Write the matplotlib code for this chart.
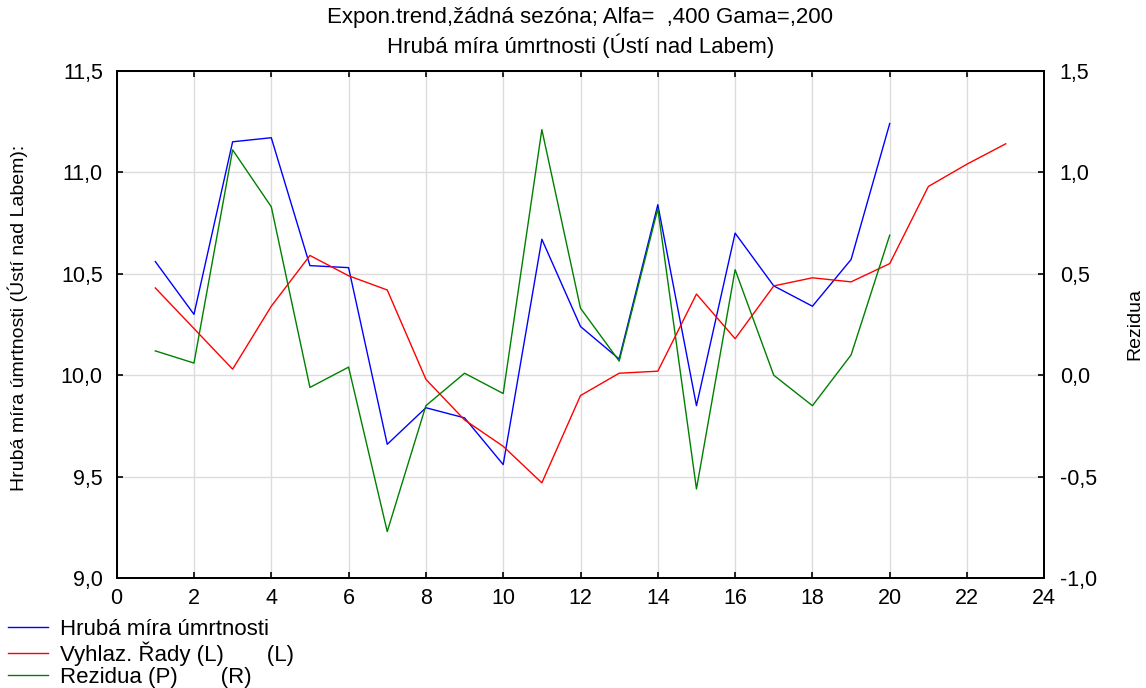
import matplotlib
matplotlib.use('Agg')
import matplotlib.pyplot as plt
from matplotlib.ticker import FuncFormatter, MultipleLocator

plt.rcParams['font.family'] = ['Liberation Sans', 'DejaVu Sans']

# observed series, smoothed series (incl. 3-step forecast) and residuals
t_obs = list(range(1, 21))
hruba_mira = [10.56, 10.30, 11.15, 11.17, 10.54, 10.53, 9.66, 9.84, 9.79, 9.56,
              10.67, 10.24, 10.08, 10.84, 9.85, 10.70, 10.44, 10.34, 10.57, 11.24]
t_smooth = list(range(1, 24))
vyhlazene = [10.43, 10.23, 10.03, 10.34, 10.59, 10.49, 10.42, 9.98, 9.78, 9.65,
             9.47, 9.90, 10.01, 10.02, 10.40, 10.18, 10.44, 10.48, 10.46, 10.55,
             10.93, 11.04, 11.14]
rezidua = [0.12, 0.06, 1.11, 0.83, -0.06, 0.04, -0.77, -0.15, 0.01, -0.09,
           1.21, 0.33, 0.07, 0.82, -0.56, 0.52, 0.00, -0.15, 0.10, 0.69]

labels = ["Hrubá míra úmrtnosti",
          "Vyhlaz. Řady (L)       (L)",
          "Rezidua (P)       (R)"]

W, H = 1146.0, 688.0


def comma(v, pos):
    return ('%.1f' % v).replace('.', ',')


fig = plt.figure(figsize=(W / 100, H / 100), dpi=100)
ax = fig.add_axes([0.1018, 0.1595, 0.8095, 0.7377])
ax2 = ax.twinx()

l1, = ax.plot(t_obs, hruba_mira, color='#0000ff', lw=1.0)
l2, = ax.plot(t_smooth, vyhlazene, color='#ff0000', lw=1.0)
l3, = ax2.plot(t_obs, rezidua, color='#008000', lw=1.0)

ax.set_xlim(0, 24)
ax.set_ylim(9.0, 11.5)
ax2.set_ylim(-1.0, 1.5)
ax.xaxis.set_major_locator(MultipleLocator(2))
ax.yaxis.set_major_locator(MultipleLocator(0.5))
ax2.yaxis.set_major_locator(MultipleLocator(0.5))
ax.yaxis.set_major_formatter(FuncFormatter(comma))
ax2.yaxis.set_major_formatter(FuncFormatter(comma))

ax.grid(True, color='#dcdcdc', lw=1.0)
ax.set_axisbelow(True)

ax.tick_params(axis='x', direction='in', top=True, length=4, width=1.2,
               labelsize=15.5, pad=7)
ax.tick_params(axis='y', direction='in', length=4, width=1.2,
               labelsize=15.5, pad=10)
ax2.tick_params(axis='y', direction='in', length=4, width=1.2,
                labelsize=15.5, pad=11)
for a in (ax, ax2):
    for s in a.spines.values():
        s.set_linewidth(1.4)

# axis titles placed in figure pixels
fig.text(18 / W, 1 - 318 / H, "Hrubá míra úmrtnosti (Ústí nad Labem):",
         rotation=90, ha='center', va='center', fontsize=14)
fig.text(1135 / W, 1 - 324 / H, "Rezidua",
         rotation=90, ha='center', va='center', fontsize=14)

fig.text(0.5065, 1 - 18 / H, "Expon.trend,žádná sezóna; Alfa=  ,400 Gama=,200",
         ha='center', va='center', fontsize=16)
fig.text(0.5065, 1 - 46 / H, "Hrubá míra úmrtnosti (Ústí nad Labem)",
         ha='center', va='center', fontsize=16)

fig.legend([l1, l2, l3], labels, loc='upper left',
           bbox_to_anchor=(8 / W, 1 - 619 / H), frameon=False, fontsize=16,
           handlelength=1.8, handletextpad=0.55, labelspacing=0.06,
           borderpad=0.0, borderaxespad=0.0)

fig.savefig('out.png', dpi=100)
